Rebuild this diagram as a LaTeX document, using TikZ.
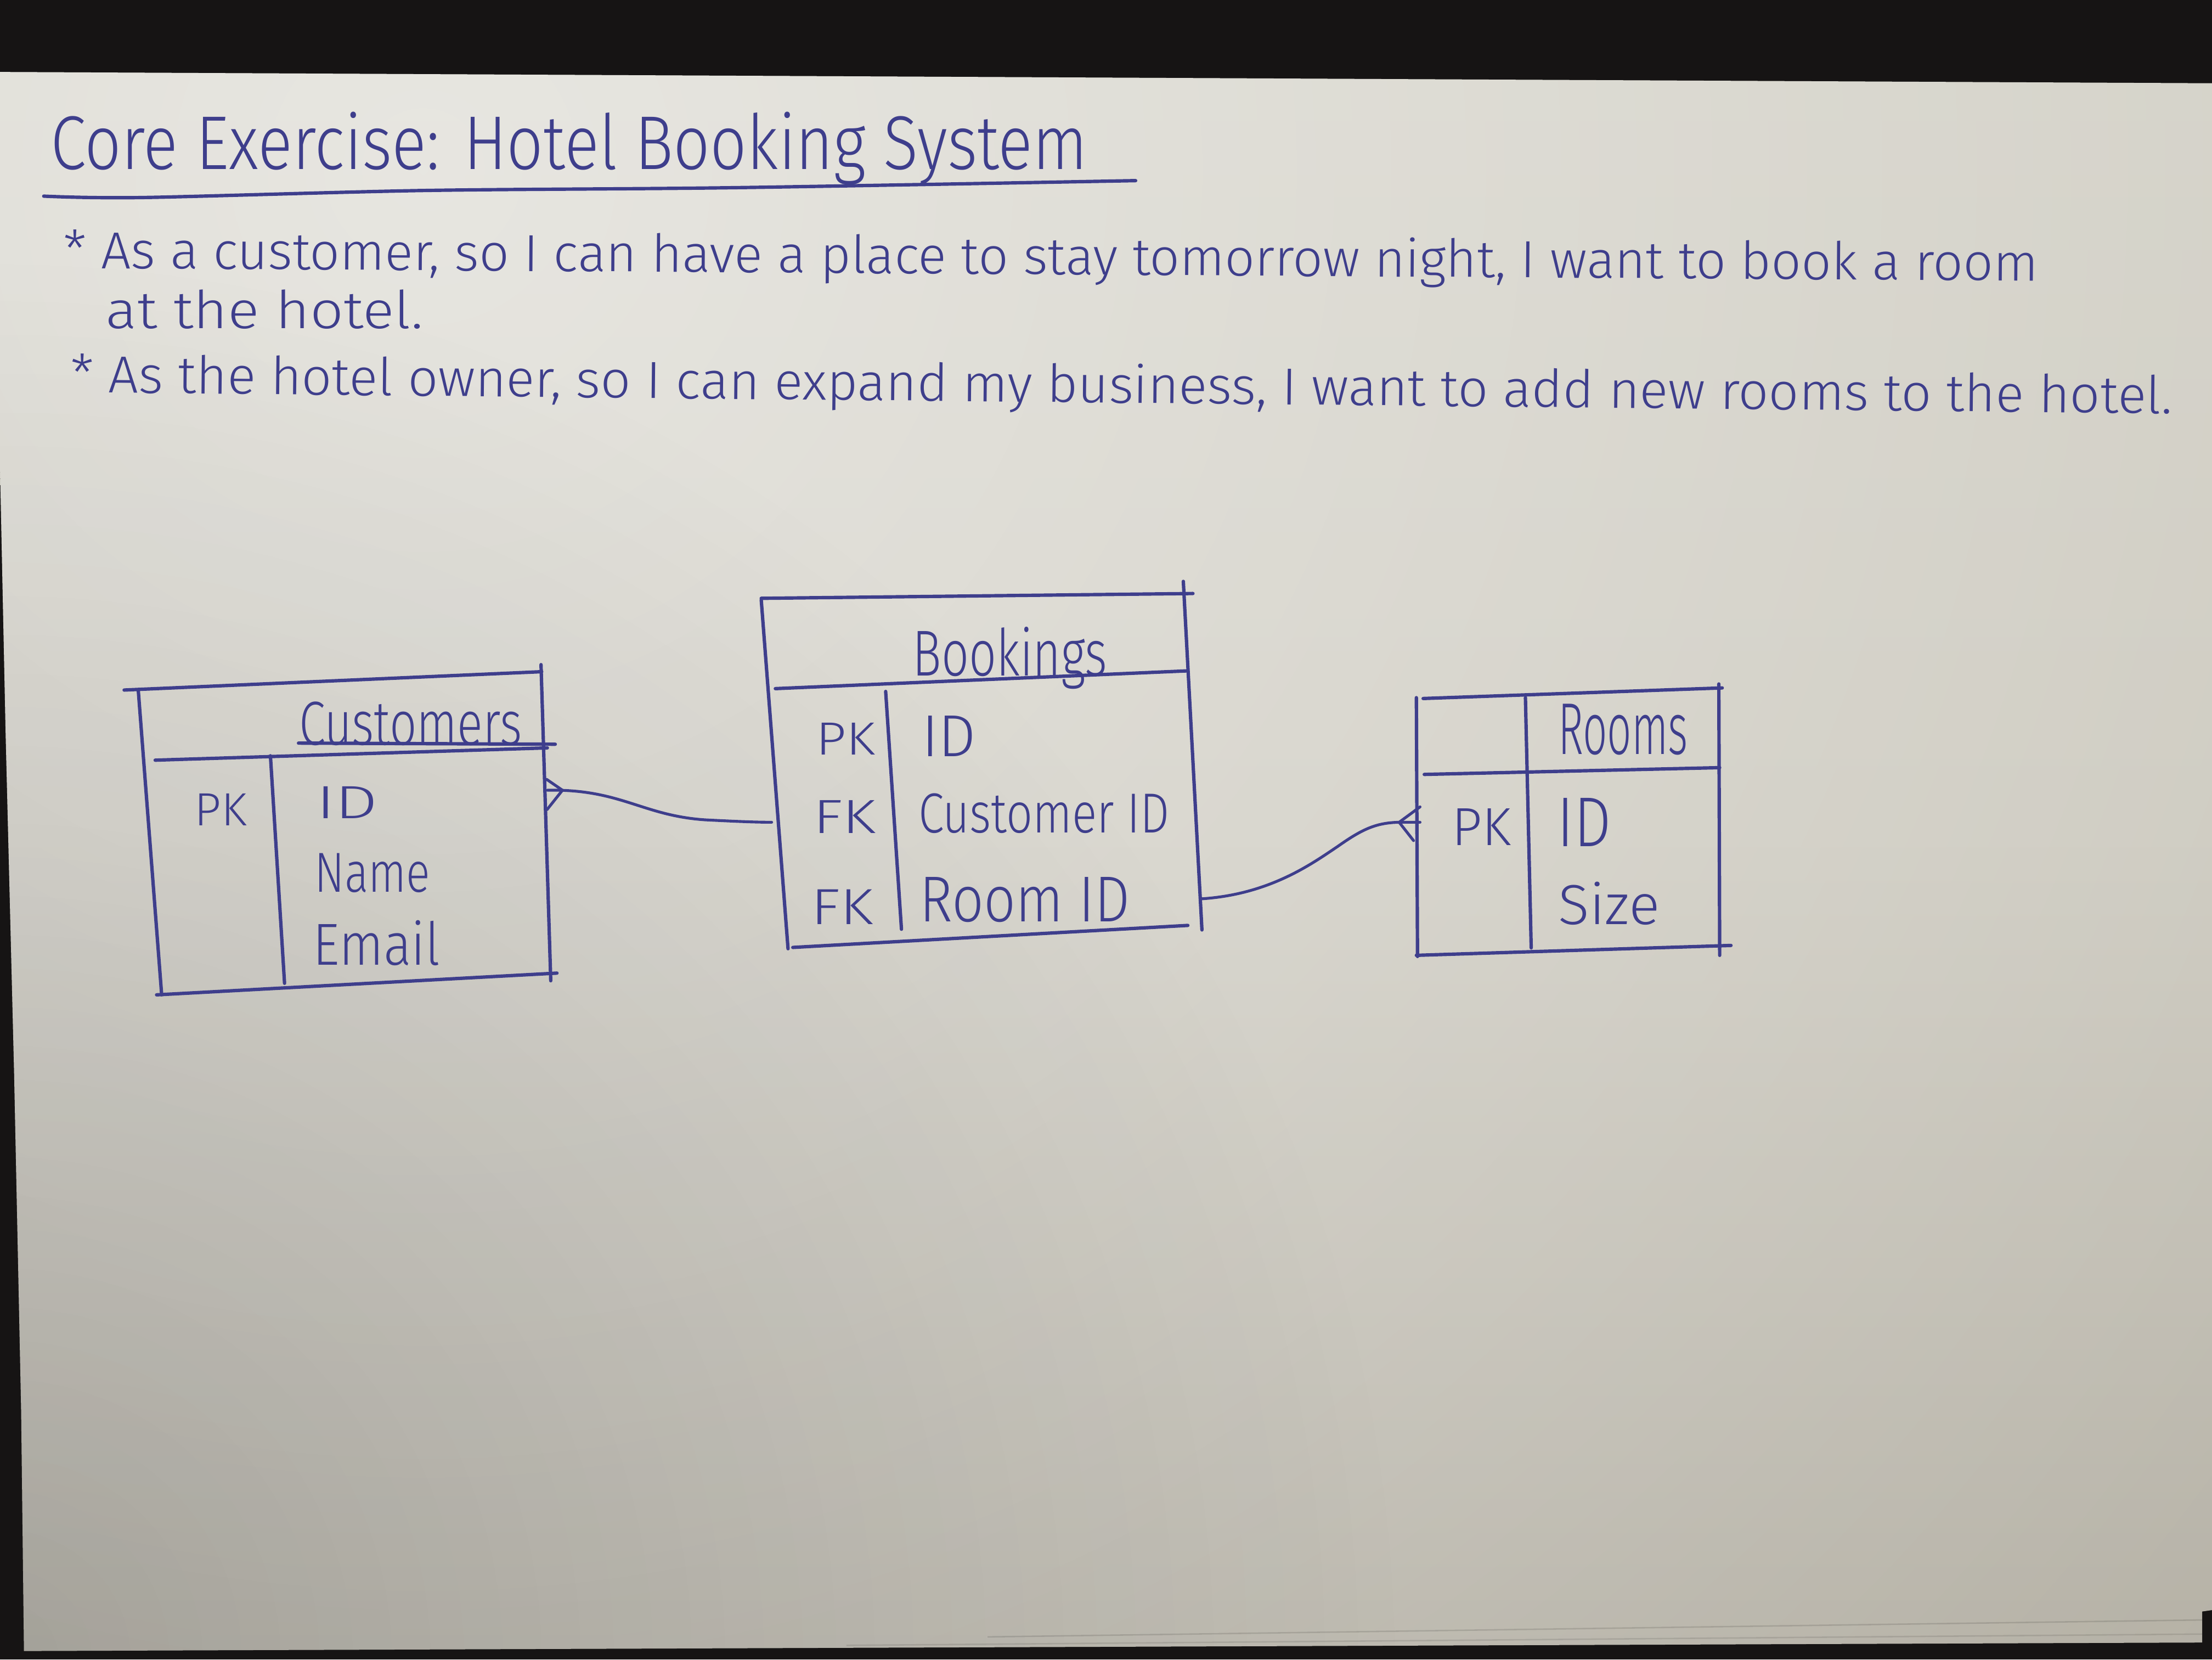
\documentclass[tikz,border=0pt]{standalone}
\usepackage{fontspec}
\usepackage{graphicx}
\usetikzlibrary{fadings}
\newfontfamily\hand{Fira Sans Light}
\definecolor{ink}{RGB}{62,62,140}
\definecolor{bgdark}{RGB}{22,20,20}
\definecolor{ptop}{RGB}{214,212,202}
\definecolor{pmid}{RGB}{203,200,189}
\definecolor{pbot}{RGB}{158,153,141}
\pgfdeclareverticalshading{paperbase}{100bp}{color(0bp)=(pbot); color(51bp)=(pmid); color(100bp)=(ptop)}
\tikzfading[name=softglow, inner color=transparent!0, outer color=transparent!100]
% handwritten-style text: size, target width, text
\newcommand{\hw}[3]{{\hand\fontsize{#1pt}{#1pt}\selectfont\resizebox{#2pt}{\height}{#3}}}
\tikzset{
  pen/.style={draw=ink, line width=2.4pt, line cap=round, line join=round},
  thinpen/.style={draw=ink, line width=2pt, line cap=round, line join=round},
  lbl/.style={anchor=base west, inner sep=0pt, outer sep=0pt, text=ink},
}
\begin{document}
\begin{tikzpicture}[x=1pt,y=-1pt]
\useasboundingbox (0,0) rectangle (1568,1176);
% dark table top around the sheet
\fill[bgdark] (0,0) rectangle (1568,1176);
% the sheet of paper
\def\paperpath{(0,51) -- (1568,59) -- (1568,1141) -- (1561,1142) -- (1561,1164) -- (17,1170) -- (15,1000) -- (10,760) -- (4,520) -- (0,330) -- cycle}
\shade[shading=paperbase] \paperpath;
\begin{scope}
  \clip \paperpath;
  \fill[white, opacity=0.5, path fading=softglow] (300,120) circle (1700);
  \fill[black, opacity=0.15, path fading=softglow] (0,1176) circle (1000);
  % edges of the sheets underneath
  \draw[black, opacity=0.12, line width=1pt] (700,1160) -- (1561,1148);
  \draw[black, opacity=0.10, line width=1pt] (600,1166) -- (1561,1158);
\end{scope}

% ---------- heading and user stories ----------
\node[lbl] (title) at (36,120) {\hw{54}{735}{Core Exercise: Hotel Booking System}};
\draw[pen] plot[smooth] coordinates {(31,139) (100,140) (300,135) (520,133) (805,128)};

\node[lbl, rotate=-0.37] (story1) at (45,190)
  {\hw{37}{1400}{* As a customer, so I can have a place to stay tomorrow night, I want to book a room}};
\node[lbl] (story1b) at (75,232.7) {\hw{37}{225}{at the hotel.}};
\node[lbl, rotate=-0.58] (story2) at (50,278)
  {\hw{37}{1490}{* As the hotel owner, so I can expand my business, I want to add new rooms to the hotel.}};

% ---------- Customers ----------
\draw[pen] (88,489) -- (384,476);
\draw[pen] (98,489) -- (114.6,705);
\draw[pen] (383.5,471) -- (390.4,695);
\draw[pen] (211.6,526.6) -- (393.6,527.4);
\draw[pen] (110,538.7) -- (388,530);
\draw[pen] (191.7,535.6) -- (201.7,696.8);
\draw[pen] (111,705) -- (394.8,689.6);
\node[lbl] (cust-title) at (212,528) {\hw{44}{158}{Customers}};
\node[lbl] (cust-pk) at (138,585) {\hw{33}{37}{PK}};
\node[lbl] (cust-id) at (224,580) {\hw{33}{44}{ID}};
\node[lbl] (cust-name) at (223,632) {\hw{40}{82}{Name}};
\node[lbl] (cust-email) at (222,684) {\hw{42}{90}{Email}};

% ---------- Bookings ----------
\draw[pen] (539.6,424) -- (845.6,420.6);
\draw[pen] (539.6,425) -- (558.6,672.3);
\draw[pen] (838.8,412) -- (852,659);
\draw[pen] (549.6,488) -- (842,475.4);
\draw[pen] (627.8,490) -- (639,658.5);
\draw[pen] (562,671.4) -- (842,655.8);
\node[lbl] (book-title) at (647,479) {\hw{46}{138}{Bookings}};
\node[lbl] (book-pk) at (578.6,535) {\hw{33}{42}{PK}};
\node[lbl] (book-id) at (653.5,536) {\hw{42}{38.5}{ID}};
\node[lbl] (book-fk1) at (576.5,590.7) {\hw{34}{44.5}{FK}};
\node[lbl] (book-cid) at (651,590) {\hw{40}{178}{Customer ID}};
\node[lbl] (book-fk2) at (575,655) {\hw{36}{44}{FK}};
\node[lbl] (book-rid) at (652,653) {\hw{46}{149}{Room ID}};

% ---------- Rooms ----------
\draw[pen] (1008.8,495) -- (1220.8,487.5);
\draw[pen] (1004,494.4) -- (1004.8,677.8);
\draw[pen] (1218.4,484.7) -- (1219,677);
\draw[pen] (1009.6,548.8) -- (1219,544);
\draw[pen] (1081.3,494.4) -- (1085.4,671.7);
\draw[pen] (1004,677) -- (1227,670);
\node[lbl] (room-title) at (1104.6,534.5) {\hw{52}{92}{Rooms}};
\node[lbl] (room-pk) at (1029,599) {\hw{38}{42}{PK}};
\node[lbl] (room-id) at (1104,600) {\hw{50}{38}{ID}};
\node[lbl] (room-size) at (1104.6,655) {\hw{40}{72}{Size}};

% ---------- relationship connectors ----------
\coordinate (cust-e) at (388,560);
\coordinate (cust-tip) at (398.7,560);
\coordinate (cust-up) at (387.5,552.3);
\coordinate (cust-dn) at (387.8,573.7);
\coordinate (book-w) at (547,582.7);
\coordinate (book-e) at (851,637);
\coordinate (room-w) at (1006.6,582.7);
\coordinate (room-tip) at (991.8,582.7);
\coordinate (room-up) at (1006.6,571.8);
\coordinate (room-dn) at (1002,595.7);

\draw[thinpen] (cust-up) -- (cust-tip) -- (cust-dn);
\draw[thinpen] (cust-e) .. controls (440,559) and (455,578) .. (500,581)
               .. controls (520,582) and (535,582.7) .. (book-w);

\draw[thinpen] (book-e) .. controls (900,634) and (930,612) .. (948,600)
               .. controls (965,588) and (975,583) .. (room-tip) -- (room-w);
\draw[thinpen] (room-up) -- (room-tip) -- (room-dn);
\end{tikzpicture}
\end{document}
